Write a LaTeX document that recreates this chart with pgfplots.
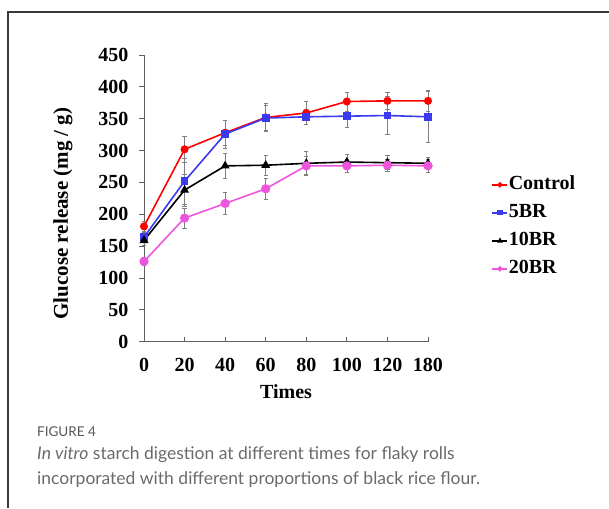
\documentclass[border=0pt]{standalone}
\usepackage{pgfplots}
\pgfplotsset{compat=1.18}
\usepackage{fontspec}
\setmainfont{Liberation Serif}
\newfontfamily\capfont{Lato}
\definecolor{axgray}{HTML}{606060}
\definecolor{framegray}{HTML}{3A3A3A}
\definecolor{capgray}{HTML}{6A6A6A}
\definecolor{cred}{HTML}{FF0000}
\definecolor{cblue}{HTML}{3A3AEE}
\definecolor{cpink}{HTML}{EE55DD}
\definecolor{errgray}{HTML}{808080}
\begin{document}
\begin{tikzpicture}[x=1pt,y=1pt]
\path[use as bounding box] (0,0) rectangle (609,-508);
\draw[color=framegray, line width=1.3pt] (8,-508) -- (8,-12) -- (609,-12);
\begin{axis}[
  at={(144pt,-341.7pt)}, anchor=south west, scale only axis,
  width=284pt, height=286.7pt,
  xmin=0, xmax=7, ymin=0, ymax=450,
  axis lines=left, axis line style={-, axgray, line width=0.9pt},
  clip=false,
  xtick={0,...,7}, xticklabels={0,20,40,60,80,100,120,180},
  ytick={0,50,...,450},
  major tick length=5pt,
  xtick align=inside, ytick align=outside,
  tick style={axgray, line width=0.9pt},
  /pgf/number format/assume math mode=true,
  tick label style={font=\fontsize{20}{22}\selectfont\bfseries},
  yticklabel style={xshift=-7pt},
  xticklabel style={yshift=-13pt},
  xlabel={Times},
  xlabel style={font=\fontsize{20}{22}\selectfont\bfseries, yshift=-6pt},
  error bars/error bar style={errgray, line width=0.7pt},
  error bars/error mark options={rotate=90, errgray, mark size=2.2pt, line width=0.7pt},
  legend style={draw=none, fill=none, at={(1.213,0.588)}, anchor=north west,
    font=\fontsize{20}{22}\selectfont\bfseries,
    nodes={text height=14pt, text depth=4pt, inner sep=0.5pt, anchor=west},
    row sep=9pt},
  legend cell align=left,
  legend image code/.code={
    \draw[mark repeat=2, mark phase=2, mark size=1.8pt] plot coordinates {(0pt,0pt) (7.5pt,0pt) (15pt,0pt)};
  },
]
\addplot[cred, line width=1.6pt, mark=*, mark size=3.2pt,
  error bars/.cd, y dir=both, y explicit] coordinates {
  (0,181) +- (0,8) (1,302) +- (0,20) (2,328) +- (0,20) (3,352) +- (0,22)
  (4,359) +- (0,18) (5,377) +- (0,15) (6,378) +- (0,13) (7,378) +- (0,16)};
\addplot[cblue, line width=1.6pt, mark=square*, mark size=3pt,
  error bars/.cd, y dir=both, y explicit] coordinates {
  (0,164) +- (0,8) (1,252) +- (0,36) (2,326) +- (0,22) (3,351) +- (0,20)
  (4,353) +- (0,12) (5,354) +- (0,18) (6,355) +- (0,30) (7,353) +- (0,40)};
\addplot[black, line width=1.6pt, mark=triangle*, mark size=3.6pt,
  error bars/.cd, y dir=both, y explicit] coordinates {
  (0,159) +- (0,8) (1,238) +- (0,25) (2,276) +- (0,20) (3,277) +- (0,16)
  (4,280) +- (0,18) (5,282) +- (0,12) (6,281) +- (0,11) (7,280) +- (0,9)};
\addplot[cpink, line width=1.6pt, mark=*, mark size=3.8pt,
  error bars/.cd, y dir=both, y explicit] coordinates {
  (0,126) +- (0,6) (1,194) +- (0,16) (2,217) +- (0,17) (3,240) +- (0,16)
  (4,276) +- (0,15) (5,276) +- (0,10) (6,277) +- (0,10) (7,276) +- (0,10)};
\legend{Control,5BR,10BR,20BR}
\end{axis}
\node[rotate=90, anchor=center, inner sep=0pt, font=\fontsize{21}{24}\selectfont\bfseries] at (63,-213.5) {Glucose release (mg / g)};
\node[anchor=base west, inner sep=0pt, text=framegray!85, font=\capfont\fontsize{13.5}{15}\selectfont] at (37,-436.7) {FIGURE 4};
\node[anchor=base west, inner sep=0pt, text=capgray, font=\capfont\fontsize{17.5}{19}\selectfont] at (37,-459.5) {\textit{In vitro} starch digestion at different times for flaky rolls};
\node[anchor=base west, inner sep=0pt, text=capgray, font=\capfont\fontsize{17.5}{19}\selectfont] at (37,-484.5) {incorporated with different proportions of black rice flour.};
\end{tikzpicture}
\end{document}
